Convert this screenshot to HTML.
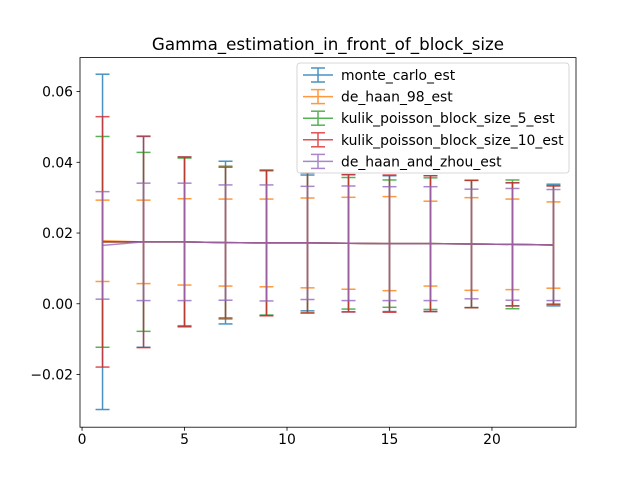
<!DOCTYPE html>
<html><head><meta charset="utf-8"><style>
body{margin:0;background:#fff;}
svg{display:block;font-family:"DejaVu Sans","Liberation Sans",sans-serif;}
</style></head><body>
<svg id="chart" width="640" height="480">
<rect width="640" height="480" fill="#fff"/>
<text x="328" y="50" font-size="16.7" text-anchor="middle" fill="#000">Gamma_estimation_in_front_of_block_size</text>
<g id="plot"></g>
<g id="axes"></g>
<g id="legend"></g>
</svg>
<script>
const xs = [1,3,5,7,9,11,13,15,17,19,21,23];
const seriesNames = ["monte_carlo_est","de_haan_98_est","kulik_poisson_block_size_5_est","kulik_poisson_block_size_10_est","de_haan_and_zhou_est"];
const colors = ["#1f77b4","#ff7f0e","#2ca02c","#d62728","#9467bd"];
const meanBlue = [0.0175,0.0175,0.0175,0.0173,0.0172,0.0172,0.0171,0.0170,0.0170,0.0169,0.0168,0.0166];
const meanOrange = [0.0178,0.0175,0.0175,0.0173,0.0172,0.0172,0.0171,0.0170,0.0170,0.0169,0.0168,0.0166];
const meanGreen = [0.0175,0.0175,0.0175,0.0173,0.0172,0.0172,0.0171,0.0170,0.0170,0.0169,0.0168,0.0166];
const meanRed = [0.0175,0.0175,0.0175,0.0173,0.0172,0.0172,0.0171,0.0170,0.0170,0.0169,0.0168,0.0166];
const meanPurple = [0.0165,0.0175,0.0175,0.0173,0.0172,0.0172,0.0171,0.0170,0.0170,0.0169,0.0168,0.0166];
const errBlue = [0.0474,0.0298,0.0240,0.0230,0.0205,0.0192,0.0194,0.0192,0.0192,0.0180,0.0174,0.0172];
const errOrange = [0.0115,0.0118,0.0122,0.0123,0.0124,0.0127,0.0130,0.0133,0.0120,0.0131,0.0128,0.0122];
const errGreen = [0.0298,0.0253,0.0237,0.0216,0.0204,0.0198,0.0186,0.0180,0.0186,0.0180,0.0182,0.0168];
const errRed = [0.0354,0.0299,0.0240,0.0213,0.0206,0.0198,0.0194,0.0194,0.0192,0.0180,0.0174,0.0167];
const errPurple = [0.0152,0.0166,0.0166,0.0163,0.0164,0.0160,0.0162,0.0161,0.0161,0.0155,0.0158,0.0157];
const xTicks = [0,5,10,15,20];
const yTicks = [-0.02,0.00,0.02,0.04,0.06];
const yTickLabels = ["\u22120.02","0.00","0.02","0.04","0.06"];

const L=80,R=576,T=57.6,B=427.2;
const xmin=-0.1,xmax=24.1,ymin=-0.0349,ymax=0.0696;
const sx=v=>L+(v-xmin)/(xmax-xmin)*(R-L);
const sy=v=>B-(v-ymin)/(ymax-ymin)*(B-T);
const NS="http://www.w3.org/2000/svg";
function mk(tag,attrs,parent){const e=document.createElementNS(NS,tag);for(const k in attrs)e.setAttribute(k,attrs[k]);parent.appendChild(e);return e;}
const plot=document.getElementById('plot'),axes=document.getElementById('axes'),legend=document.getElementById('legend');
const means=[meanBlue,meanOrange,meanGreen,meanRed,meanPurple];
const errs=[errBlue,errOrange,errGreen,errRed,errPurple];
const cap=7;
for(let s=0;s<5;s++){
  const g=mk('g',{opacity:0.8},plot);
  
  
  const pts=xs.map((x,i)=>sx(x)+','+sy(means[s][i])).join(' ');
  const line=mk('polyline',{points:pts,fill:'none',stroke:colors[s],'stroke-width':1.5},g);
  
  
  xs.forEach((x,i)=>{
    const X=sx(x),lo=sy(means[s][i]-errs[s][i]),hi=sy(means[s][i]+errs[s][i]);
    const eb=mk('g',{stroke:colors[s],'stroke-width':1.5},g);
    
    
    mk('line',{x1:X,x2:X,y1:lo,y2:hi},eb);
    mk('line',{x1:X-cap,x2:X+cap,y1:lo,y2:lo},eb);
    mk('line',{x1:X-cap,x2:X+cap,y1:hi,y2:hi},eb);
  });
}
const frame=mk('rect',{x:L,y:T,width:R-L,height:B-T,fill:'none',stroke:'#000','stroke-width':0.8},axes);


xTicks.forEach(t=>{
  const X=sx(t);
  mk('line',{x1:X,x2:X,y1:B,y2:B+3.5,stroke:'#000','stroke-width':0.8},axes);
  const tx=mk('text',{x:X,y:B+17,'font-size':13.9,'text-anchor':'middle'},axes);
  tx.textContent=t;
  
  
});
yTicks.forEach((t,i)=>{
  const Y=sy(t);
  mk('line',{x1:L-3.5,x2:L,y1:Y,y2:Y,stroke:'#000','stroke-width':0.8},axes);
  const tx=mk('text',{x:L-7,y:Y+5,'font-size':13.9,'text-anchor':'end'},axes);
  tx.textContent=yTickLabels[i];
  
  
});
const lb=mk('rect',{x:297,y:63,width:272,height:110,rx:3,fill:'#fff','fill-opacity':0.8,stroke:'#ccc','stroke-width':0.8},legend);


seriesNames.forEach((n,i)=>{
  const y=75+i*21.6;
  const g=mk('g',{},legend);
  
  
  const h=mk('g',{stroke:colors[i],'stroke-width':1.5,opacity:0.8},g);
  mk('line',{x1:303,x2:333,y1:y,y2:y},h);
  mk('line',{x1:318,x2:318,y1:y-7,y2:y+7},h);
  mk('line',{x1:311,x2:325,y1:y-7,y2:y-7},h);
  mk('line',{x1:311,x2:325,y1:y+7,y2:y+7},h);
  const t=mk('text',{x:341,y:y+5,'font-size':13.9},g);
  t.textContent=n;
});
</script>
</body></html>
